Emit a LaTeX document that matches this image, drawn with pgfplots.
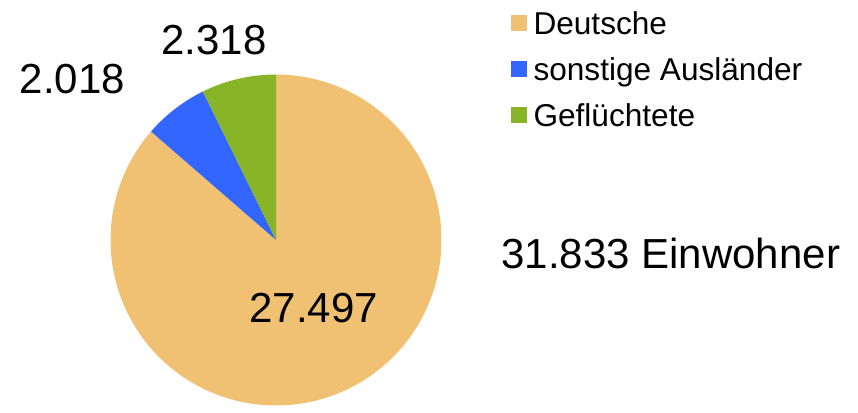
\documentclass[border=0pt]{standalone}
\usepackage{pgfplots}
\pgfplotsset{compat=1.18}
\usepackage{fontspec}
\setmainfont{Liberation Sans}
\definecolor{cDeu}{HTML}{F0C073}
\definecolor{cAus}{HTML}{3366FF}
\definecolor{cGef}{HTML}{88B428}
% values (in thousands)
\def\vDeu{27.497}
\def\vAus{2.018}
\def\vGef{2.318}
\pgfmathsetmacro{\vTot}{\vDeu+\vAus+\vGef}
\pgfmathsetmacro{\aA}{90}
\pgfmathsetmacro{\aB}{90-360*\vDeu/\vTot}
\pgfmathsetmacro{\aC}{\aB-360*\vAus/\vTot}
\pgfmathsetmacro{\aD}{\aC-360*\vGef/\vTot}
\def\cx{276}
\def\cy{172}
\def\rr{165.5}
\begin{document}
\begin{tikzpicture}
\begin{axis}[
  width=858pt, height=412pt, scale only axis,
  xmin=0, xmax=858, ymin=0, ymax=412,
  axis line style={draw=none}, ticks=none,
  clip=false,
  legend image code/.code={\fill[#1] (0pt,-8pt) rectangle (16pt,8pt);},
  legend style={at={(axis description cs:0.5956,0.9879)}, anchor=north west,
    draw=none, fill=none, inner sep=0pt, outer sep=0pt,
    font=\fontsize{31.6}{36}\selectfont,
    nodes={inner sep=0pt, text height=30pt, text depth=6pt},
    row sep=10pt, column sep=6.5pt},
  legend cell align=left,
]
\addplot[fill=cDeu, draw=none, domain=\aA:\aB, samples=200, variable=\t]
  ({\cx+\rr*cos(\t)}, {\cy+\rr*sin(\t)}) -- (axis cs:\cx,\cy) -- cycle;
\addlegendentry{Deutsche}
\addplot[fill=cAus, draw=none, domain=\aB:\aC, samples=30, variable=\t]
  ({\cx+\rr*cos(\t)}, {\cy+\rr*sin(\t)}) -- (axis cs:\cx,\cy) -- cycle;
\addlegendentry{sonstige Ausländer}
\addplot[fill=cGef, draw=none, domain=\aC:\aD, samples=30, variable=\t]
  ({\cx+\rr*cos(\t)}, {\cy+\rr*sin(\t)}) -- (axis cs:\cx,\cy) -- cycle;
\addlegendentry{Geflüchtete}
\node[anchor=base, inner sep=0pt, font=\fontsize{42}{50}\selectfont] at (axis cs:313.7,89.7) {27.497};
\node[anchor=base, inner sep=0pt, font=\fontsize{42}{50}\selectfont] at (axis cs:214,357) {2.318};
\node[anchor=base, inner sep=0pt, font=\fontsize{42}{50}\selectfont] at (axis cs:72.5,318.7) {2.018};
\node[anchor=base, inner sep=0pt, font=\fontsize{42}{50}\selectfont] at (axis cs:670.8,143.7) {31.833 Einwohner};
\end{axis}
\end{tikzpicture}
\end{document}
